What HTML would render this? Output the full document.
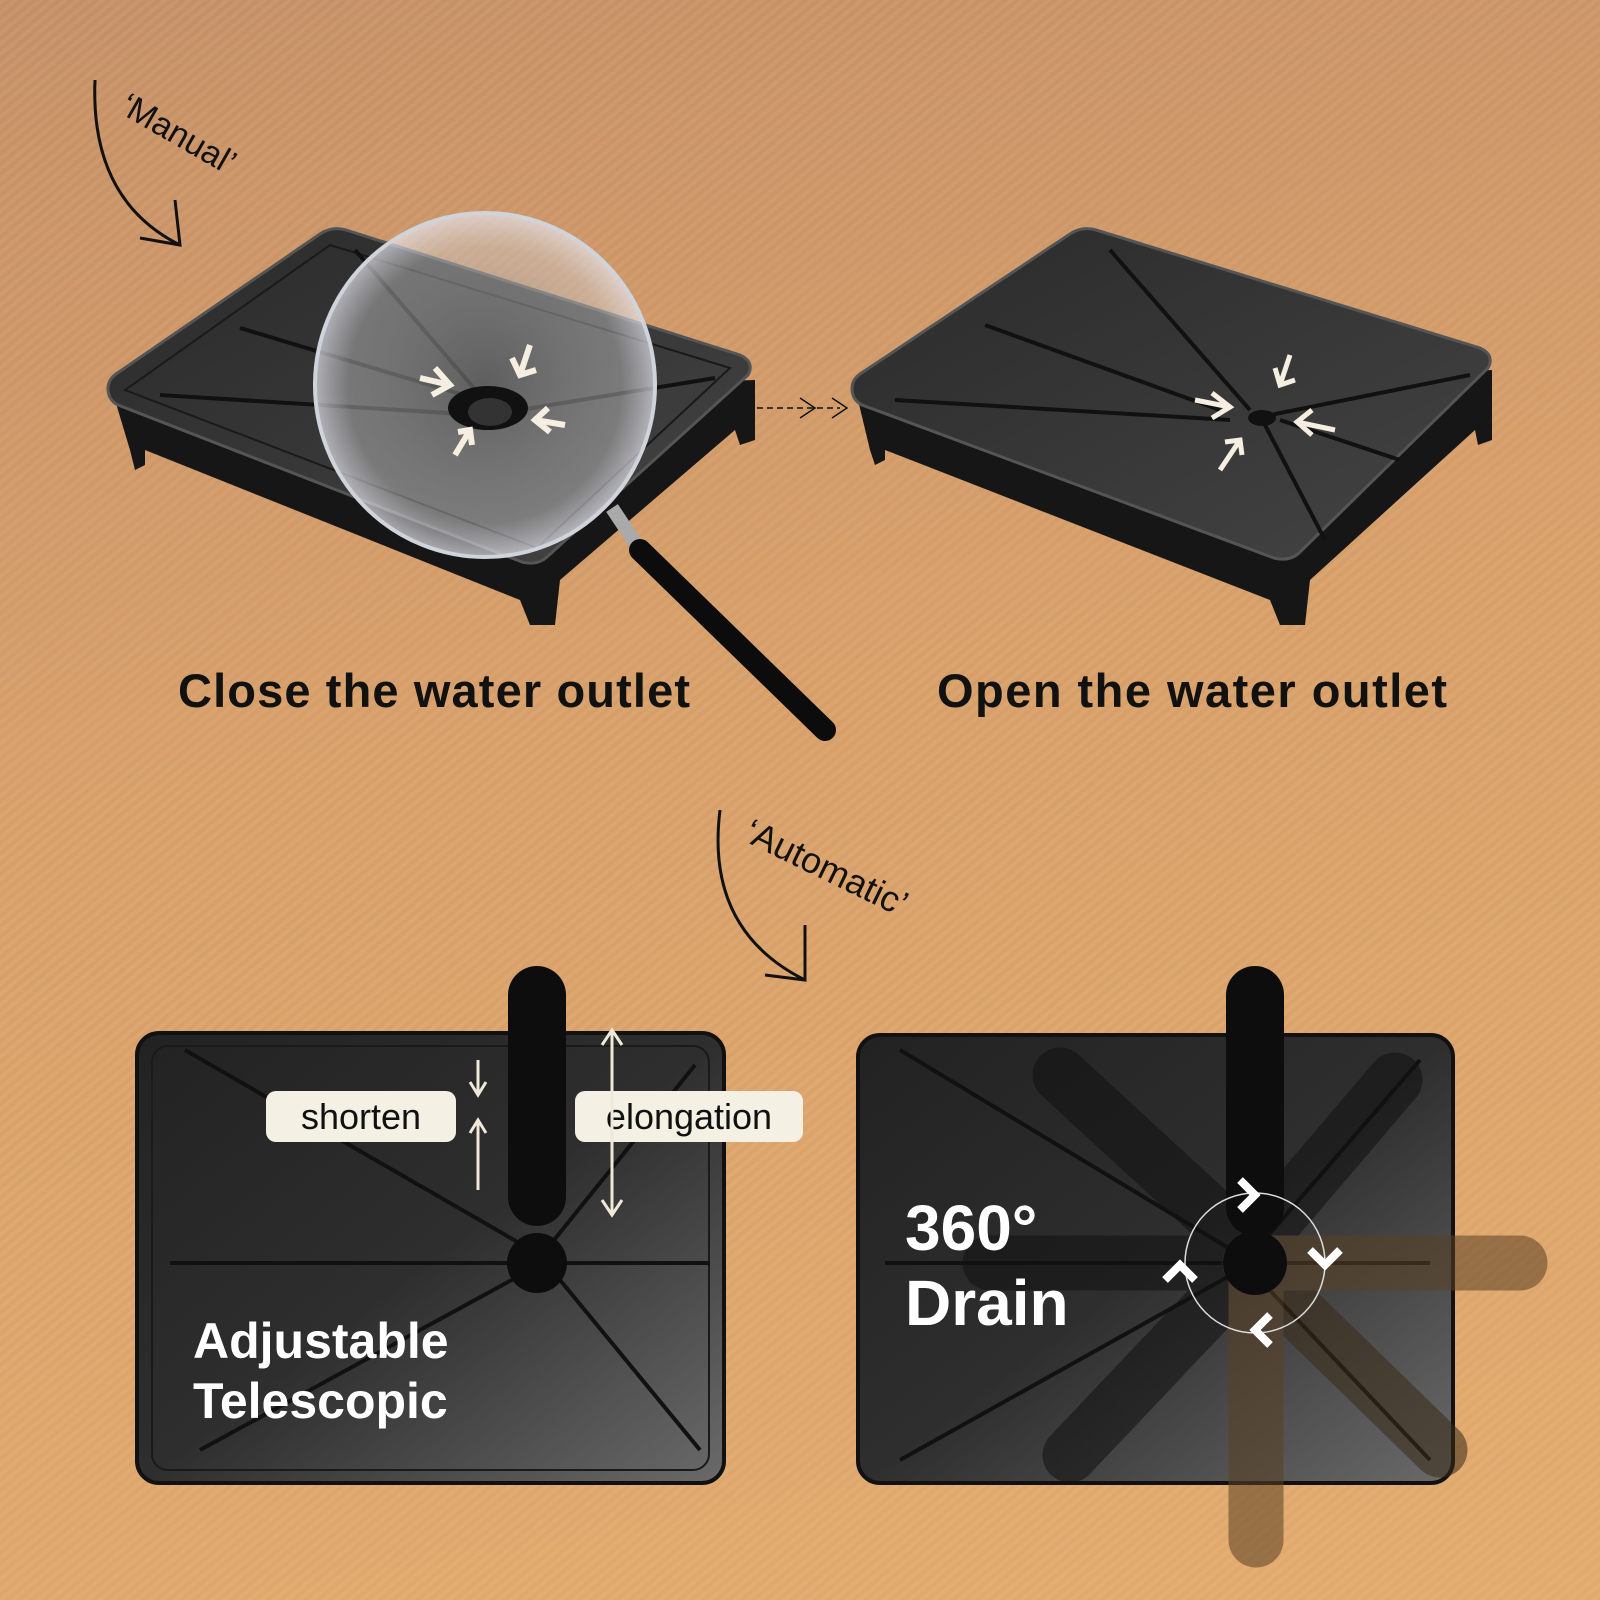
<!DOCTYPE html>
<html><head><meta charset="utf-8"><style>
html,body{margin:0;padding:0}
body{width:1600px;height:1600px;overflow:hidden;background:linear-gradient(170deg,#c58f66 0%,#d69e68 40%,#e2aa6c 100%);font-family:"Liberation Sans",sans-serif}
svg{position:absolute;left:0;top:0}
</style></head><body>
<svg width="1600" height="1600" viewBox="0 0 1600 1600">
<defs>
<pattern id="st" width="8" height="8" patternUnits="userSpaceOnUse" patternTransform="rotate(-40)">
<rect width="8" height="4" fill="rgba(255,255,255,0.05)"/></pattern>
<linearGradient id="tg" x1="0" y1="0" x2="1" y2="1"><stop offset="0" stop-color="#222"/><stop offset="0.5" stop-color="#2e2e2e"/><stop offset="1" stop-color="#6a6a6a"/></linearGradient>
<linearGradient id="tt" x1="0" y1="0" x2="1" y2="1"><stop offset="0" stop-color="#2a2a2a"/><stop offset="1" stop-color="#444"/></linearGradient>
<radialGradient id="lens" cx="0.5" cy="0.5" r="0.5"><stop offset="0" stop-color="rgba(120,120,120,0.6)"/><stop offset="0.8" stop-color="rgba(200,200,200,0.45)"/><stop offset="1" stop-color="rgba(230,230,240,0.7)"/></radialGradient>
</defs>
<rect width="1600" height="1600" fill="url(#st)"/>

<path d="M95,80 Q90,200 180,245" fill="none" stroke="#111" stroke-width="3"/>
<path d="M140,238 L180,245 L175,200" fill="none" stroke="#111" stroke-width="3"/>
<text x="118" y="112" font-size="34" fill="#111" transform="rotate(30 118 112)">‘Manual’</text>
<path d="M720,810 Q705,930 805,980" fill="none" stroke="#111" stroke-width="3"/>
<path d="M765,975 L805,980 L805,925" fill="none" stroke="#111" stroke-width="3"/>
<text x="742" y="840" font-size="36" fill="#111" transform="rotate(26 742 840)">‘Automatic’</text>

<g>
<path d="M115,400 L130,450 L135,470 L145,465 L145,450 L520,600 L530,625 L555,625 L560,580 L735,430 L740,445 L755,440 L755,380 Z" fill="#161616"/>
<path d="M108,388 Q108,380 116,374 L320,234 Q332,226 346,230 L740,355 Q755,362 748,375 L548,556 Q538,566 522,562 L118,405 Q108,400 108,388 Z" fill="url(#tt)" stroke="#555" stroke-width="3"/>
<path d="M125,390 L330,245 L730,368 L537,548 Z" fill="none" stroke="#1a1a1a" stroke-width="2"/>
<line x1="160" y1="395" x2="480" y2="415" stroke="#111" stroke-width="4"/>
<line x1="240" y1="328" x2="480" y2="400" stroke="#111" stroke-width="4"/>
<line x1="355" y1="250" x2="480" y2="395" stroke="#111" stroke-width="4"/>
<line x1="715" y1="378" x2="520" y2="410" stroke="#111" stroke-width="4"/>
<ellipse cx="485" cy="385" rx="170" ry="172" fill="url(#lens)" stroke="#cfd3da" stroke-width="4"/>
<ellipse cx="488" cy="408" rx="40" ry="22" fill="#111"/>
<ellipse cx="490" cy="412" rx="22" ry="14" fill="#333"/>
<g stroke="#f6eee0" stroke-width="6" fill="none">
<path d="M420,378 L450,385 M435,368 L450,385 L432,395"/>
<path d="M530,345 L520,375 M512,358 L520,375 L536,370"/>
<path d="M565,425 L535,420 M548,408 L535,420 L550,432"/>
<path d="M455,455 L470,430 M458,432 L470,430 L472,445"/>
</g>
<line x1="612" y1="508" x2="640" y2="550" stroke="#aaa" stroke-width="14"/>
<line x1="640" y1="550" x2="825" y2="730" stroke="#0c0c0c" stroke-width="22" stroke-linecap="round"/>
</g>
<line x1="757" y1="408" x2="840" y2="408" stroke="#111" stroke-width="1.5" stroke-dasharray="6,4"/>
<path d="M800,398 L815,408 L800,418 M832,398 L847,408 L832,418" fill="none" stroke="#111" stroke-width="1.5"/>

<g>
<path d="M858,400 L870,450 L875,465 L885,460 L885,450 L1270,600 L1280,625 L1305,625 L1310,580 L1475,430 L1478,445 L1492,440 L1492,370 Z" fill="#161616"/>
<path d="M852,388 Q852,380 860,374 L1070,234 Q1082,226 1096,230 L1480,348 Q1495,355 1488,368 L1300,552 Q1290,562 1274,558 L862,405 Q852,400 852,388 Z" fill="url(#tt)" stroke="#555" stroke-width="3"/>
<line x1="895" y1="400" x2="1230" y2="420" stroke="#111" stroke-width="4"/>
<line x1="985" y1="325" x2="1220" y2="410" stroke="#111" stroke-width="4"/>
<line x1="1110" y1="250" x2="1250" y2="410" stroke="#111" stroke-width="4"/>
<line x1="1470" y1="375" x2="1270" y2="415" stroke="#111" stroke-width="4"/>
<line x1="1265" y1="425" x2="1325" y2="540" stroke="#111" stroke-width="4"/>
<line x1="1280" y1="420" x2="1400" y2="460" stroke="#111" stroke-width="4"/>
<ellipse cx="1262" cy="418" rx="14" ry="8" fill="#111"/>
<g stroke="#f6eee0" stroke-width="5" fill="none">
<path d="M1195,400 L1230,407 M1212,393 L1230,407 L1212,418"/>
<path d="M1290,355 L1280,385 M1275,368 L1280,385 L1295,380"/>
<path d="M1335,430 L1297,422 M1312,410 L1297,422 L1312,435"/>
<path d="M1220,470 L1240,440 M1225,442 L1240,440 L1242,455"/>
</g>
</g>

<text x="178" y="707" font-size="47" font-weight="bold" fill="#111" textLength="512" lengthAdjust="spacing">Close the water outlet</text>
<text x="937" y="707" font-size="47" font-weight="bold" fill="#111" textLength="510" lengthAdjust="spacing">Open the water outlet</text>

<rect x="137" y="1033" width="587" height="450" rx="22" fill="url(#tg)" stroke="#111" stroke-width="4"/>
<rect x="152" y="1046" width="557" height="424" rx="16" fill="none" stroke="#1a1a1a" stroke-width="2"/>
<g stroke="#111" stroke-width="4">
<line x1="170" y1="1263" x2="710" y2="1263"/>
<line x1="185" y1="1050" x2="540" y2="1255"/>
<line x1="695" y1="1065" x2="550" y2="1245"/>
<line x1="200" y1="1450" x2="530" y2="1270"/>
<line x1="700" y1="1450" x2="560" y2="1280"/>
</g>
<rect x="508" y="966" width="58" height="260" rx="29" fill="#0d0d0d"/>
<circle cx="537" cy="1263" r="30" fill="#0d0d0d"/>
<rect x="266" y="1091" width="190" height="51" rx="10" fill="#f5f0e4"/>
<text x="361" y="1129" font-size="36" fill="#111" text-anchor="middle">shorten</text>
<rect x="575" y="1091" width="228" height="51" rx="10" fill="#f5f0e4"/>
<text x="689" y="1129" font-size="36" fill="#111" text-anchor="middle">elongation</text>
<g stroke="#f0e8d8" stroke-width="3" fill="none">
<path d="M478,1060 L478,1095 M470,1082 L478,1095 L486,1082"/>
<path d="M478,1190 L478,1120 M470,1133 L478,1120 L486,1133"/>
<path d="M612,1030 L612,1215 M602,1045 L612,1030 L622,1045 M602,1200 L612,1215 L622,1200"/>
</g>
<text x="193" y="1358" font-size="50" font-weight="bold" fill="#fff">Adjustable</text>
<text x="193" y="1418" font-size="50" font-weight="bold" fill="#fff">Telescopic</text>

<rect x="858" y="1035" width="595" height="448" rx="22" fill="url(#tg)" stroke="#111" stroke-width="4"/>
<g stroke="#111" stroke-width="4">
<line x1="885" y1="1263" x2="1430" y2="1263"/>
<line x1="900" y1="1050" x2="1240" y2="1255"/>
<line x1="1420" y1="1060" x2="1260" y2="1245"/>
<line x1="900" y1="1460" x2="1240" y2="1270"/>
<line x1="1430" y1="1460" x2="1260" y2="1280"/>
</g>
<g stroke-linecap="round" opacity="0.55">
<line x1="1060" y1="1075" x2="1250" y2="1250" stroke="#111" stroke-width="55"/>
<line x1="1395" y1="1080" x2="1250" y2="1250" stroke="#111" stroke-width="55"/>
<line x1="1070" y1="1455" x2="1250" y2="1265" stroke="#111" stroke-width="55"/>
<line x1="1440" y1="1450" x2="1250" y2="1265" stroke="#3a2a18" stroke-width="55"/>
<line x1="990" y1="1263" x2="1250" y2="1263" stroke="#111" stroke-width="55"/>
<line x1="1250" y1="1263" x2="1520" y2="1263" stroke="#5a4126" stroke-width="55"/>
<line x1="1256" y1="1270" x2="1256" y2="1540" stroke="#5a4126" stroke-width="55"/>
</g>
<rect x="1226" y="966" width="58" height="270" rx="29" fill="#0d0d0d"/>
<circle cx="1255" cy="1263" r="32" fill="#0d0d0d"/>
<circle cx="1255" cy="1263" r="70" fill="none" stroke="#ddd" stroke-width="1.5"/>
<g stroke="#fff" stroke-width="8" fill="none">
<path d="M1240,1180 L1255,1195 L1240,1210"/>
<path d="M1310,1250 L1325,1265 L1340,1250"/>
<path d="M1270,1315 L1255,1330 L1270,1345"/>
<path d="M1165,1280 L1180,1265 L1195,1280"/>
</g>
<text x="905" y="1250" font-size="64" font-weight="bold" fill="#fff">360°</text>
<text x="905" y="1325" font-size="64" font-weight="bold" fill="#fff">Drain</text>
</svg>
</body></html>
